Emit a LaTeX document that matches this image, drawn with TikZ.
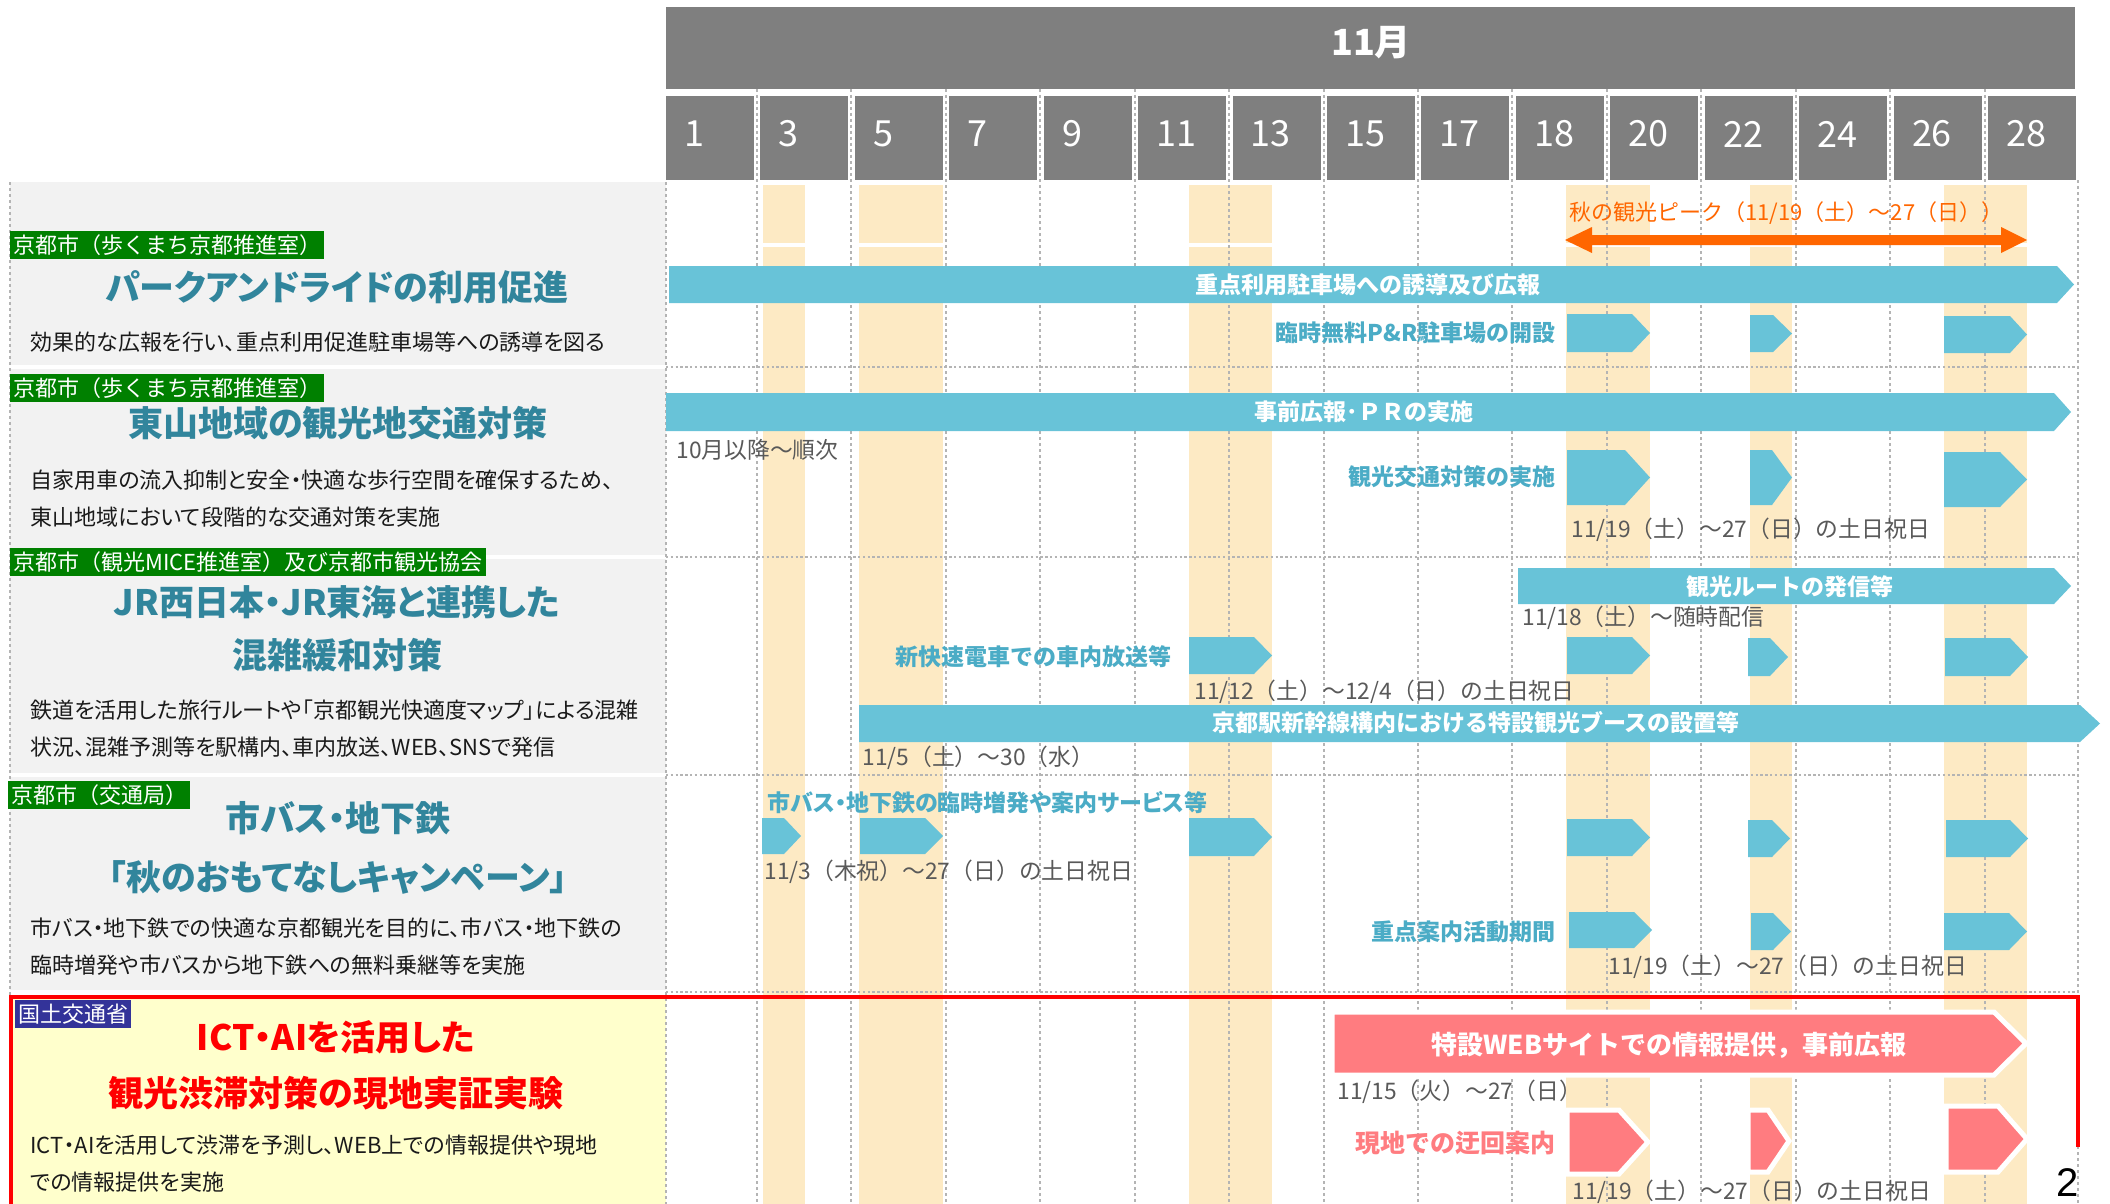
\documentclass[tikz,border=0pt]{standalone}
\usepackage{fontspec}
\setmainfont{Noto Sans CJK JP}
\newfontfamily\jpt{Noto Sans CJK JP}[RawFeature=+palt]
\newfontfamily\pgnum{Liberation Sans}
\newcommand\setfs[1]{\fontsize{#1}{#1}\selectfont}
\definecolor{hdr}{HTML}{7F7F7F}
\definecolor{panelG}{HTML}{F2F2F2}
\definecolor{panelY}{HTML}{FFFFCC}
\definecolor{stripeC}{HTML}{FDEAC4}
\definecolor{arrTeal}{HTML}{68C3D8}
\definecolor{lblTeal}{HTML}{4BACC6}
\definecolor{ttlTeal}{HTML}{31859C}
\definecolor{annoGray}{HTML}{595959}
\definecolor{orangeC}{HTML}{FF6600}
\definecolor{pinkC}{HTML}{FF7C80}
\definecolor{tagGreen}{HTML}{008000}
\definecolor{tagBlue}{HTML}{333399}
\definecolor{redC}{HTML}{FF0000}
\definecolor{bodyC}{HTML}{1A1A1A}
\definecolor{gridC}{HTML}{B4B4B4}
\newcommand\pent[6][arrTeal]{\fill[#1] (#2,#4) -- ({#3-#6},#4) -- (#3,{(#4+#5)/2}) -- ({#3-#6},#5) -- (#2,#5) -- cycle;}
\newcommand\pinkpent[5]{\filldraw[fill=pinkC,draw=white,line width=2.5pt,line join=miter] (#1,#3) -- ({#2-#5},#3) -- (#2,{(#3+#4)/2}) -- ({#2-#5},#4) -- (#1,#4) -- cycle;}
\tikzset{
  tagbox/.style={anchor=west, text=white, font=\setfs{11pt}, inner xsep=1.5pt, inner ysep=1.5pt, text height=9.5pt, text depth=1.5pt},
  ttl/.style={font=\jpt\bfseries\setfs{17.5pt}, text=ttlTeal, inner sep=0pt},
  bodytxt/.style={font=\jpt\setfs{11pt}, text=bodyC, anchor=west, inner sep=0pt},
  anno/.style={font=\setfs{11.4pt}, text=annoGray, anchor=west, inner sep=0pt},
  lbl/.style={font=\bfseries\setfs{11.5pt}, text=lblTeal, anchor=east, inner sep=0pt},
  arrtxt/.style={font=\bfseries\setfs{11.5pt}, text=white, inner sep=0pt},
  vdash/.style={gridC, line width=1pt, dash pattern=on 1.5pt off 1.5pt},
  hdot/.style={gridC, line width=1pt, dash pattern=on 1.2pt off 1.2pt},
  datenum/.style={font=\setfs{18pt}, text=white, anchor=west, inner sep=0pt}
}
\begin{document}
\begin{tikzpicture}[x=0.5pt,y=-0.5pt]
\useasboundingbox (0,0) rectangle (2110,1204);
\fill[white] (0,0) rectangle (2110,1204);
% left panels
\fill[panelG] (10,182) rectangle (666,365);
\fill[panelG] (10,369) rectangle (666,555);
\fill[panelG] (10,559) rectangle (666,773);
\fill[panelG] (10,777) rectangle (666,990);
\fill[panelY] (10,997) rectangle (666,1204);
% stripes
\foreach \a/\b in {763/805, 859/943, 1189/1272, 1566/1650, 1750/1792, 1944/2027}{
  \fill[stripeC] (\a,185) rectangle (\b,243);
  \fill[stripeC] (\a,247) rectangle (\b,1204);
}
% grid lines
\foreach \i in {1,...,14}{
  \draw[vdash] ({666+94.43*\i-3.5},89) -- ({666+94.43*\i-3.5},1204);
}
\draw[vdash] (666,182) -- (666,1204);
\draw[vdash] (2078,180) -- (2078,1204);
\draw[vdash] (10,182) -- (10,997);
\foreach \y in {367,557,775,992}{
  \draw[hdot] (666,\y) -- (2078,\y);
}
% header
\fill[hdr] (666,7) rectangle (2075,89);
\node[font=\bfseries\setfs{18pt}, text=white] (month) at (1371,43) {11月};
\foreach \i/\d in {0/1,1/3,2/5,3/7,4/9,5/11,6/13,7/15,8/17,9/18,10/20,11/22,12/24,13/26,14/28}{
  \pgfmathsetmacro\xl{666+94.43*\i}
  \fill[hdr] (\xl,96) rectangle ({\xl+88},180);
  \node[datenum] (day\d) at ({\xl+18},134) {\d};
}
% row 1
\fill[orangeC] (1565,240) -- (1592,227) -- (1592,235) -- (2001,235) -- (2001,227) -- (2027,240) -- (2001,253) -- (2001,245) -- (1592,245) -- (1592,253) -- cycle;
\node[font=\setfs{11pt}, text=orangeC, anchor=west, inner sep=0pt] (peak) at (1569,213) {秋の観光ピーク（11/19（土）～27（日））};
\pent{669}{2074}{266}{303}{17}
\node[arrtxt] (a1) at (1368,285) {重点利用駐車場への誘導及び広報};
\pent{1567}{1650}{314}{352}{18}
\pent{1750}{1792}{315}{352}{19}
\pent{1944}{2027}{316}{353}{17}
\node[lbl] (l1) at (1556,333) {臨時無料P\&R駐車場の開設};
% row 2
\pent{666}{2071}{393}{431}{17}
\node[arrtxt] (a2) at (1364,412) {事前広報･ＰＲの実施};
\node[anno] (n2a) at (676,450) {10月以降～順次};
\pent{1567}{1650}{450}{505}{25}
\pent{1750}{1792}{450}{505}{20}
\pent{1944}{2027}{452}{507}{27}
\node[lbl] (l2) at (1556,477) {観光交通対策の実施};
\node[anno] (n2b) at (1571,530) {11/19（土）～27（日）の土日祝日};
% row 3
\pent{1518}{2071}{568}{604}{17}
\node[arrtxt] (a3) at (1790,587) {観光ルートの発信等};
\node[anno] (n3a) at (1522,618) {11/18（土）～随時配信};
\node[lbl] (l3) at (1172,657) {新快速電車での車内放送等};
\pent{1189}{1272}{637}{674}{18}
\pent{1567}{1650}{637}{674}{18}
\pent{1748}{1788}{638}{676}{18}
\pent{1945}{2028}{638}{676}{18}
\node[anno] (n3b) at (1194,692) {11/12（土）～12/4（日）の土日祝日};
\pent{859}{2100}{705}{742}{20}
\node[arrtxt] (a4) at (1476,723) {京都駅新幹線構内における特設観光ブースの設置等};
\node[anno] (n3c) at (862,758) {11/5（土）～30（水）};
% row 4
\node[lbl, anchor=west, font=\jpt\bfseries\setfs{11.5pt}] (l4a) at (767,803) {市バス・地下鉄の臨時増発や案内サービス等};
\pent{762}{801}{818}{854}{17}
\pent{860}{943}{818}{854}{18}
\pent{1189}{1272}{818}{856}{18}
\pent{1567}{1650}{819}{856}{18}
\pent{1748}{1790}{820}{857}{18}
\pent{1946}{2028}{820}{857}{18}
\node[anno] (n4a) at (764,872) {11/3（木祝）～27（日）の土日祝日};
\node[lbl] (l4b) at (1556,932) {重点案内活動期間};
\pent{1569}{1652}{912}{948}{18}
\pent{1751}{1791}{913}{950}{18}
\pent{1944}{2027}{913}{950}{18}
\node[anno] (n4b) at (1608,967) {11/19（土）～27（日）の土日祝日};
% row 5
\pinkpent{1332}{2026}{1012}{1075}{32}
\node[arrtxt, font=\bfseries\setfs{13pt}] (a5) at (1669,1045) {特設WEBサイトでの情報提供，事前広報};
\node[anno] (n5a) at (1337,1092) {11/15（火）～27（日）};
\node[lbl, text=pinkC, font=\bfseries\setfs{12.5pt}] (l5) at (1556,1143) {現地での迂回案内};
\pinkpent{1567}{1648}{1110}{1174}{29}
\pinkpent{1748}{1789}{1110}{1172}{21}
\pinkpent{1946}{2027}{1106}{1172}{29}
\node[anno] (n5b) at (1572,1192) {11/19（土）～27（日）の土日祝日};
% red box
\draw[redC, line width=2pt, line join=miter] (10.5,1210) -- (10.5,997) -- (2078,997) -- (2078,1147);
\node[font=\pgnum\setfs{20pt}, text=black, inner sep=0pt] (pg) at (2068,1183) {2};
% left texts
\node[tagbox, fill=tagGreen] (tag1) at (10,245) {京都市（歩くまち京都推進室）};
\node[ttl] (t1) at (337,287) {パークアンドライドの利用促進};
\node[bodytxt] (b1) at (30,342) {効果的な広報を行い、重点利用促進駐車場等への誘導を図る};
\node[tagbox, fill=tagGreen] (tag2) at (10,388) {京都市（歩くまち京都推進室）};
\node[ttl] (t2) at (338,423) {東山地域の観光地交通対策};
\node[bodytxt] (b2a) at (30,480) {自家用車の流入抑制と安全・快適な歩行空間を確保するため、};
\node[bodytxt] (b2b) at (30,517) {東山地域において段階的な交通対策を実施};
\node[tagbox, fill=tagGreen] (tag3) at (10,562) {京都市（観光MICE推進室）及び京都市観光協会};
\node[ttl] (t3a) at (337,602) {JR西日本・JR東海と連携した};
\node[ttl] (t3b) at (337,655) {混雑緩和対策};
\node[bodytxt] (b3a) at (30,710) {鉄道を活用した旅行ルートや「京都観光快適度マップ」による混雑};
\node[bodytxt] (b3b) at (30,747) {状況、混雑予測等を駅構内、車内放送、WEB、SNSで発信};
\node[tagbox, fill=tagGreen] (tag4) at (8,795) {京都市（交通局）};
\node[ttl] (t4a) at (338,818) {市バス・地下鉄};
\node[ttl] (t4b) at (338,877) {「秋のおもてなしキャンペーン」};
\node[bodytxt] (b4a) at (30,928) {市バス・地下鉄での快適な京都観光を目的に、市バス・地下鉄の};
\node[bodytxt] (b4b) at (30,965) {臨時増発や市バスから地下鉄への無料乗継等を実施};
\node[tagbox, fill=tagBlue] (tag5) at (15,1014) {国土交通省};
\node[ttl, text=redC] (t5a) at (336,1037) {ICT・AIを活用した};
\node[ttl, text=redC] (t5b) at (336,1093) {観光渋滞対策の現地実証実験};
\node[bodytxt] (b5a) at (30,1145) {ICT・AIを活用して渋滞を予測し、WEB上での情報提供や現地};
\node[bodytxt] (b5b) at (30,1182) {での情報提供を実施};
\end{tikzpicture}
\end{document}
